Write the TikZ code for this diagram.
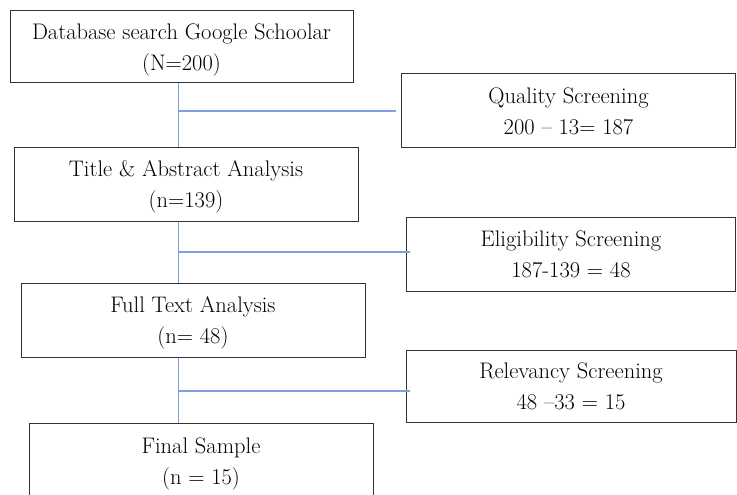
\documentclass[tikz,border=0pt]{standalone}
\usepackage{tikz}
\usepackage{xcolor}
\usetikzlibrary{arrows}

\definecolor{linkblue}{RGB}{125,160,222}

\begin{document}
\begin{tikzpicture}[x=1pt,y=-1pt,semithick,
                    link/.style={draw=linkblue,line width=1.4pt}]
  \tikzstyle{box}=[draw=black!80,line width=1pt,rectangle,align=center,
                   inner sep=0pt,text height=53pt,text depth=6pt,
                   font=\fontsize{22.5}{31}\selectfont]

  \useasboundingbox (0,0) rectangle (737,495);

  \node[box, minimum width=343pt, minimum height=72pt] (A) at (181.5,46.7)
        {Database search Google Schoolar\\(N=200)};
  \node[box, minimum width=344pt, minimum height=74pt] (B) at (186,184.3)
        {Title \& Abstract Analysis\\(n=139)};
  \node[box, minimum width=344pt, minimum height=74pt] (C) at (193,320)
        {Full Text Analysis\\(n= 48)};
  \node[box, minimum width=344pt, minimum height=74pt] (D) at (201,460.5)
        {Final Sample\\(n = 15)};

  \node[box, minimum width=334pt, minimum height=73pt] (Q) at (568.5,110.5)
        {Quality Screening\\200 -- 13= 187};
  \node[box, minimum width=329pt, minimum height=74pt] (E) at (571,254)
        {Eligibility Screening\\187-139 = 48};
  \node[box, minimum width=330pt, minimum height=72pt] (R) at (571,386)
        {Relevancy Screening\\48 --33 = 15};

  % spine and branch points
  \coordinate (s) at (178.5,0);
  \coordinate (q) at (178.5,111);
  \coordinate (e) at (178.5,252);
  \coordinate (r) at (178.5,391);

  \draw[link] (A.south -| s) -- (B.north -| s);
  \draw[link] (B.south -| s) -- (C.north -| s);
  \draw[link] (C.south -| s) -- (D.north -| s);

  \draw[link] (q) -- ([xshift=-5pt]q -| Q.west);
  \draw[link] (e) -- ([xshift=4pt]e -| E.west);
  \draw[link] (r) -- ([xshift=4pt]r -| R.west);
\end{tikzpicture}
\end{document}
